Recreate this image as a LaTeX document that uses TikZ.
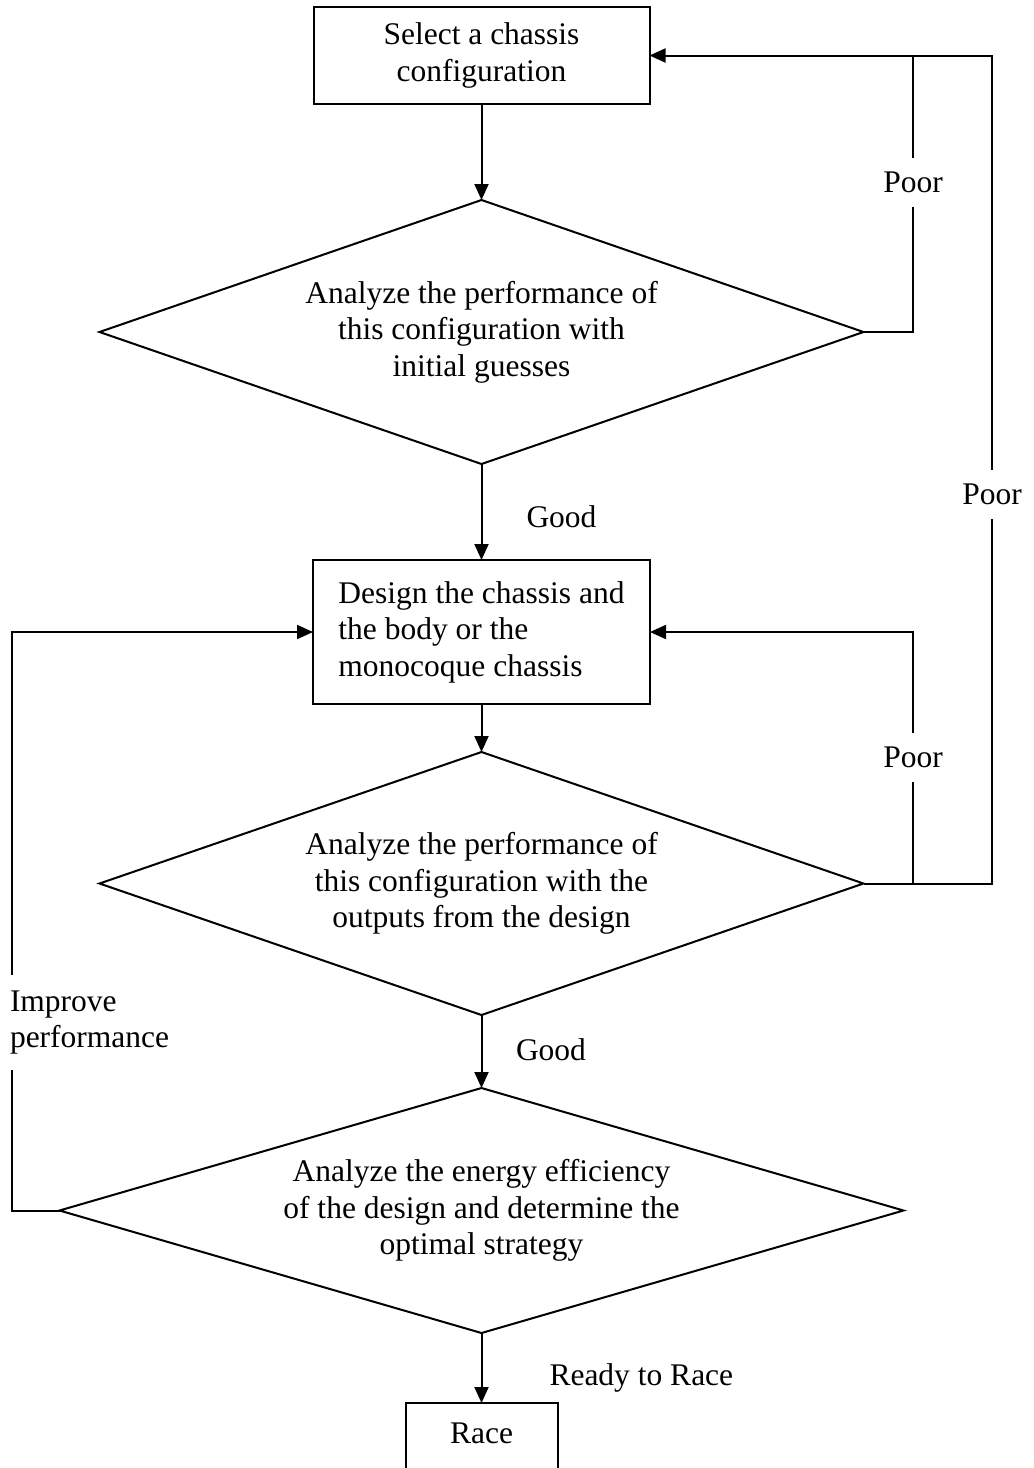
\documentclass[tikz,border=0pt]{standalone}
\usepackage{fontspec}
\setmainfont{Liberation Serif}
\usepackage{tikz}
\usetikzlibrary{shapes.geometric}
\usetikzlibrary{arrows.meta}

\begin{document}
\begin{tikzpicture}[
    x=1pt, y=-1pt,
    >={Triangle[length=16pt,width=14pt]},
    line width=2pt,
    font=\fontsize{31.5}{36.5}\selectfont,
    block/.style={draw, rectangle, align=center, inner sep=0pt, outer sep=0pt},
    decision/.style={draw, diamond, aspect=3.2, align=center, inner sep=0pt, outer sep=0pt},
    lbl/.style={inner sep=0pt},
    gaplbl/.style={fill=white, inner xsep=2pt, inner ysep=14pt}
]

% Page
\useasboundingbox (0,0) rectangle (1034,1468);

% Steps
\node[block, minimum width=336pt, minimum height=97pt]
    (select) at (481.5,55.5) {Select a chassis\\configuration};
\node[decision, minimum width=764pt, minimum height=264pt]
    (check1) at (481.5,332) {Analyze the performance of\\this configuration with\\initial guesses};
\node[block, align=left, minimum width=337pt, minimum height=144pt]
    (design) at (481.5,632) {Design the chassis and\\the body or the\\monocoque chassis};
\node[decision, minimum width=764pt, minimum height=263pt]
    (check2) at (481.5,883.5) {Analyze the performance of\\this configuration with the\\outputs from the design};
\node[decision, minimum width=844pt, minimum height=245pt]
    (energy) at (481.5,1210.5) {Analyze the energy efficiency\\of the design and determine the\\optimal strategy};
\node[block, minimum width=152pt, minimum height=74pt, text depth=14pt]
    (race) at (481.5,1440) {Race};

% Loop columns
\coordinate (inner) at (913,0);
\coordinate (outer) at (992,0);
\coordinate (left) at (12,0);

% Main flow
\draw[->] (select) -- (check1);
\draw[->] (check1) -- (design)
    node[lbl, pos=0.55, right=44pt] {Good};
\draw[->] (design) -- (check2);
\draw[->] (check2) -- (energy)
    node[lbl, pos=0.47, right=33.5pt] {Good};
\draw[->] (energy) -- (race)
    node[lbl, pos=0.64, right=67pt] {Ready to Race};

% Poor: back to the configuration
\draw[->] (check1.east) -- (check1.east -| inner)
    -- node[gaplbl, pos=0.54] {Poor} (inner |- select.east)
    -- (select.east);

% Poor: back to the design
\draw[->] (check2.east) -- (check2.east -| inner)
    -- node[gaplbl, pos=0.5] {Poor} (inner |- design.east)
    -- (design.east);

% Poor: outer loop
\draw (check2.east -| inner) -- (check2.east -| outer)
    -- node[gaplbl, pos=0.47] {Poor} (outer |- select.east)
    -- (inner |- select.east);

% Improve performance
\draw[->] (energy.west) -- (energy.west -| left)
    -- node[gaplbl, pos=0.325, anchor=west, inner xsep=0pt, inner ysep=16pt, align=left, xshift=-3pt]
       {Improve\\performance} (left |- design.west)
    -- (design.west);
\end{tikzpicture}
\end{document}
